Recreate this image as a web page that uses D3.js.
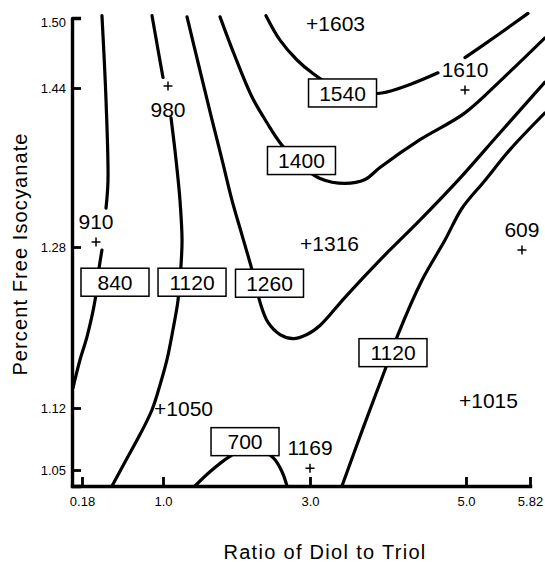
<!DOCTYPE html>
<html>
<head>
<meta charset="utf-8">
<script src="https://cdn.jsdelivr.net/npm/d3@7"></script>
<style>
  html, body { margin: 0; padding: 0; background: #fff; }
  svg { display: block; }
  text { font-family: "Liberation Sans", Arial, Helvetica, sans-serif; fill: #000; }
</style>
</head>
<body>
<svg id="chart" width="545" height="562"></svg>
<script>
// ---- axes ----
const xTicks = [0.18, 1.0, 3.0, 5.0, 5.82];
const xTickLabels = ["0.18", "1.0", "3.0", "5.0", "5.82"];
const yTicks = [1.05, 1.12, 1.28, 1.44, 1.50];
const yTickLabels = ["1.05", "1.12", "1.28", "1.44", "1.50"];
const xStart = 0.079;   // left end of the ratio axis
const yStart = 1.032;   // bottom end of the isocyanate axis

// ---- contour lines: [ratio, % free isocyanate]; null breaks the line ----
const contour840 = [
  [0.382, 1.502], [0.423, 1.428], [0.443, 1.347], [0.423, 1.319], null,
  [0.382, 1.277], [0.342, 1.252], [0.312, 1.227], [0.231, 1.191], [0.160, 1.168], [0.089, 1.140]
];
const contour1120Left = [
  [0.889, 1.502], [0.949, 1.473], [1.000, 1.449], null,
  [1.109, 1.410], [1.177, 1.368], [1.231, 1.327], [1.259, 1.287], [1.245, 1.262], [1.204, 1.227],
  [1.136, 1.198], [1.054, 1.168], [0.970, 1.143], [0.889, 1.118], [0.767, 1.090], [0.625, 1.061], [0.484, 1.032]
];
const contour1260 = [
  [1.327, 1.501], [1.503, 1.455], [1.667, 1.408], [1.803, 1.368], [1.939, 1.327], [2.075, 1.292],
  [2.197, 1.261], [2.265, 1.242], [2.320, 1.225], [2.429, 1.205], [2.592, 1.193], [2.769, 1.189],
  [2.959, 1.193], [3.128, 1.202], [3.449, 1.230], [3.897, 1.267], [4.410, 1.307], [4.897, 1.347],
  [5.436, 1.395], [6.012, 1.445]
];
const contour1400 = [
  [1.776, 1.501], [1.980, 1.467], [2.211, 1.431], [2.415, 1.405], [2.592, 1.385], [2.864, 1.363],
  [3.128, 1.349], [3.449, 1.344], [3.705, 1.348], [3.897, 1.360], [4.410, 1.388], [4.987, 1.415],
  [5.500, 1.450], [6.012, 1.483]
];
const contour1540 = [
  [2.401, 1.502], [2.592, 1.481], [2.823, 1.464], [3.026, 1.453], [3.256, 1.443], [3.577, 1.436],
  [3.923, 1.435], [4.282, 1.443], [4.641, 1.453], null,
  [4.987, 1.466], [5.397, 1.485], [5.794, 1.504]
];
const contour1120Right = [
  [6.012, 1.415], [5.564, 1.378], [5.243, 1.347], [4.949, 1.319], [4.731, 1.287], [4.436, 1.247],
  [4.128, 1.193], [3.962, 1.158], [3.679, 1.097], [3.410, 1.032]
];
const contour700 = [
  [1.435, 1.032], [1.639, 1.048], [1.884, 1.064], [2.184, 1.077], [2.497, 1.064], [2.619, 1.048], [2.687, 1.032]
];
const contourLines = [contour840, contour1120Left, contour1260, contour1400, contour1540, contour1120Right, contour700];

// ---- boxed level labels ----
const levelLabelValues = [840, 1120, 1260, 1400, 1540, 1120, 700];
const levelLabelRatio = [0.514, 1.395, 2.449, 2.884, 3.417, 4.064, 2.116];
const levelLabelIso   = [1.245, 1.245, 1.244, 1.367, 1.435, 1.175, 1.082];

// ---- measured design points ----
const pointValues = [980, 1603, 1610, 910, 1316, 609, 1050, 1015, 1169];
const pointRatio  = [1.068, 3.026, 4.987, 0.322, 2.946, 5.717, 0.970, 4.987, 3.000];
const pointIso    = [1.4417, 1.4949, 1.438, 1.285, 1.284, 1.277, 1.120, 1.127, 1.052];
const pointLabelSide = ["below", "right", "above", "above", "right", "above", "right", "right", "above"];

// ---- drawing ----
const svg = d3.select("#chart");

const x = d3.scaleLinear()
  .domain([xStart, ...xTicks])
  .range([72, 82, 163, 310, 466, 530]);
const y = d3.scaleLinear()
  .domain([yStart, ...yTicks])
  .range([486, 470, 408, 247, 88, 18]);

const FONT = "'Liberation Sans', Arial, Helvetica, sans-serif";

// contour curves
const line = d3.line()
  .defined(d => d !== null)
  .x(d => x(d[0]))
  .y(d => y(d[1]))
  .curve(d3.curveCatmullRom.alpha(0.5));

svg.append("g")
  .selectAll("path")
  .data(contourLines)
  .join("path")
  .attr("d", line)
  .attr("fill", "none")
  .attr("stroke", "#000")
  .attr("stroke-width", 3.2)
  .attr("stroke-linecap", "round")
  .attr("stroke-linejoin", "round");

// bottom axis
const gx = svg.append("g")
  .attr("transform", `translate(0,${y(yStart)})`)
  .call(d3.axisBottom(x)
    .tickValues(xTicks)
    .tickFormat((d, i) => xTickLabels[i])
    .tickSize(-9)
    .tickSizeOuter(0)
    .tickPadding(11));
gx.select(".domain").attr("stroke-width", 3.4).attr("stroke-linecap", "square");
gx.selectAll(".tick line").attr("stroke-width", 2.8);
gx.selectAll(".tick text").attr("font-size", 13).attr("font-family", FONT);

// left axis
const gy = svg.append("g")
  .attr("transform", `translate(${x(xStart)},0)`)
  .call(d3.axisLeft(y)
    .tickValues(yTicks)
    .tickFormat((d, i) => yTickLabels[i])
    .tickSize(-9)
    .tickSizeOuter(-9)
    .tickPadding(6));
gy.select(".domain").attr("stroke-width", 3.4).attr("stroke-linejoin", "round");
gy.selectAll(".tick line").attr("stroke-width", 2.8);
gy.selectAll(".tick text").attr("font-size", 13).attr("font-family", FONT);
gy.selectAll(".tick text").filter(d => d === 1.50).attr("transform", "translate(0,4)");

// boxed contour level labels
const boxW = 68, boxH = 28;
const boxes = svg.append("g")
  .selectAll("g")
  .data(levelLabelValues)
  .join("g")
  .attr("transform", (d, i) => `translate(${x(levelLabelRatio[i])},${y(levelLabelIso[i])})`);
boxes.append("rect")
  .attr("x", -boxW / 2).attr("y", -boxH / 2)
  .attr("width", boxW).attr("height", boxH)
  .attr("fill", "#fff").attr("stroke", "#000").attr("stroke-width", 1.5);
boxes.append("text")
  .attr("text-anchor", "middle")
  .attr("dy", "0.36em")
  .attr("font-size", 21)
  .text(d => d);

// design points with their measured values
const pts = svg.append("g")
  .selectAll("g")
  .data(pointValues)
  .join("g")
  .attr("transform", (d, i) => `translate(${x(pointRatio[i])},${y(pointIso[i])})`);

pts.each(function (d, i) {
  const g = d3.select(this);
  const side = pointLabelSide[i];
  if (side === "right") {
    g.append("text")
      .attr("x", -6)
      .attr("y", 7.5)
      .attr("font-size", 21)
      .text("+" + d);
  } else {
    g.append("path")
      .attr("d", "M-4.5,0H4.5M0,-4.5V4.5")
      .attr("stroke", "#000")
      .attr("stroke-width", 1.5);
    g.append("text")
      .attr("text-anchor", "middle")
      .attr("y", side === "above" ? -13 : 31)
      .attr("font-size", 21)
      .text(d);
  }
});

// axis titles
svg.append("text")
  .attr("x", 325)
  .attr("y", 559)
  .attr("text-anchor", "middle")
  .attr("font-size", 20)
  .attr("letter-spacing", 1.3)
  .text("Ratio of Diol to Triol");

svg.append("text")
  .attr("transform", "translate(27,254) rotate(-90)")
  .attr("text-anchor", "middle")
  .attr("font-size", 20)
  .attr("letter-spacing", 1.1)
  .text("Percent Free Isocyanate");
</script>
</body>
</html>
